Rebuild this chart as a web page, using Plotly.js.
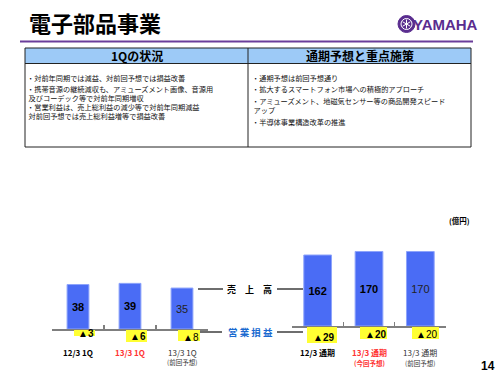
<!DOCTYPE html>
<html>
<head>
<meta charset="utf-8">
<script src="https://cdn.plot.ly/plotly-3.0.1.min.js"></script>
<style>html,body{margin:0;padding:0;background:#fff;}#chart{width:500px;height:375px;}</style>
</head>
<body>
<div id="chart"></div>
<script>
// ---- data ----
const categoriesQ = ['12/3 1Q', '13/3 1Q', '13/3 1Q'];
const subLabelsQ = ['', '', '(前回予想)'];
const salesQ = [38, 39, 35];
const opIncomeQ = [-3, -6, -8];

const categoriesFY = ['12/3 通期', '13/3 通期', '13/3 通期'];
const subLabelsFY = ['', '(今回予想)', '(前回予想)'];
const salesFY = [162, 170, 170];
const opIncomeFY = [-29, -20, -20];

const pageTitle = '電子部品事業';
const headerLeft = '1Qの状況';
const headerRight = '通期予想と重点施策';
const linesLeft = [
  '・対前年同期では減益、対前回予想では損益改善',
  '・携帯音源の継続減収も、アミューズメント画像、音源用',
  ' 及びコーデック等で対前年同期増収',
  '・営業利益は、売上総利益の減少等で対前年同期減益',
  ' 対前回予想では売上総利益増等で損益改善'
];
const linesRight = [
  '・通期予想は前回予想通り',
  '・拡大するスマートフォン市場への積極的アプローチ',
  '・アミューズメント、地磁気センサー等の商品開発スピード',
  ' アップ',
  '・半導体事業構造改革の推進'
];
const unitLabel = '(億円)';
const salesLabel = '売　上　高';
const opLabel = '営 業 損 益';
const pageNo = '14';

// ---- styles ----
const W = 500, H = 375;
const px = x => x / W;
const py = y => 1 - y / H;
const CJK = '"Noto Sans CJK JP", "Noto Sans", sans-serif';
const SANS = '"Liberation Sans", Arial, sans-serif';
const barColor = '#4a6cf5';
const barLine = '#8ea4fb';
const yellow = '#ffff33';
const red = '#ff3333';
const labelColors = ['#000', red, '#333'];
const labelBold = [true, true, false];
// [left offset px, width px, height px]
const boxQ = [[-4.2, 21, 6], [-3.8, 21, 11.5], [-4, 22, 11]];
const boxQText = [[8, -4.5], [7.5, -7], [8.5, -8]];
const boxFY = [[-11, 30, 16], [-9.2, 26.6, 12], [-8.8, 26.6, 12]];
const boxFYText = [[6, -11], [6.8, -8], [6, -8]];

const xQ = categoriesQ.map((_, i) => i);
const xFY = categoriesFY.map((_, i) => i);
const fmtBar = (v, i) => labelBold[i] ? '<b>' + v + '</b>' : String(v);

const traces = [
  {
    type: 'bar', x: xQ, y: salesQ, xaxis: 'x', yaxis: 'y', width: 0.42,
    marker: {color: barColor, line: {color: barLine, width: 1}},
    text: salesQ.map(fmtBar), textposition: 'inside', insidetextanchor: 'middle',
    textangle: 0, constraintext: 'none',
    insidetextfont: {family: SANS, size: 11, color: ['#000', '#000', '#222']},
    hoverinfo: 'skip'
  },
  {
    type: 'bar', x: xFY, y: salesFY, xaxis: 'x2', yaxis: 'y2', width: 0.54,
    marker: {color: barColor, line: {color: barLine, width: 1}},
    text: salesFY.map(fmtBar), textposition: 'inside', insidetextanchor: 'middle',
    textangle: 0, constraintext: 'none',
    insidetextfont: {family: SANS, size: 11, color: ['#000', '#000', '#222']},
    hoverinfo: 'skip'
  }
];

const shapes = [];
const annotations = [];

// title + header line
annotations.push({xref: 'paper', yref: 'paper', x: px(27), y: py(22), xanchor: 'left', yanchor: 'middle',
  text: '<b>' + pageTitle + '</b>', showarrow: false, font: {family: CJK, size: 22, color: '#000'}});
shapes.push({type: 'line', xref: 'paper', yref: 'paper', x0: px(20), x1: px(473), y0: py(41.5), y1: py(41.5),
  line: {color: '#6a3d9a', width: 2}});

// logo
shapes.push({type: 'circle', xref: 'paper', yref: 'paper', x0: px(398), x1: px(415), y0: py(15.5), y1: py(32.5),
  fillcolor: '#5a2d8f', line: {color: '#5a2d8f', width: 1}});
shapes.push({type: 'circle', xref: 'paper', yref: 'paper', x0: px(401), x1: px(412), y0: py(18.5), y1: py(29.5),
  fillcolor: 'rgba(0,0,0,0)', line: {color: '#ffffff', width: 1}});
[[0, 1], [0.866, 0.5], [0.866, -0.5]].forEach(d => {
  shapes.push({type: 'line', xref: 'paper', yref: 'paper',
    x0: px(406.5 - 4.5 * d[0]), x1: px(406.5 + 4.5 * d[0]), y0: py(24 - 4.5 * d[1]), y1: py(24 + 4.5 * d[1]),
    line: {color: '#ffffff', width: 1}});
});
annotations.push({xref: 'paper', yref: 'paper', x: px(445.5), y: py(24.5), xanchor: 'center', yanchor: 'middle',
  text: '<b>YAMAHA</b>', showarrow: false,
  font: {family: '"Liberation Sans Narrow", "Arial Narrow", "Liberation Sans", sans-serif', size: 15, color: '#5a2d8f'}});

// table
shapes.push({type: 'rect', xref: 'paper', yref: 'paper', x0: px(25), x1: px(471), y0: py(48), y1: py(63.5),
  fillcolor: '#9dcaf7', line: {width: 0}, layer: 'below'});
shapes.push({type: 'rect', xref: 'paper', yref: 'paper', x0: px(25), x1: px(471), y0: py(48), y1: py(147),
  fillcolor: 'rgba(0,0,0,0)', line: {color: '#222', width: 1}});
shapes.push({type: 'line', xref: 'paper', yref: 'paper', x0: px(248), x1: px(248), y0: py(48), y1: py(147),
  line: {color: '#222', width: 1}});
shapes.push({type: 'line', xref: 'paper', yref: 'paper', x0: px(25), x1: px(471), y0: py(63.5), y1: py(63.5),
  line: {color: '#222', width: 1}});
annotations.push({xref: 'paper', yref: 'paper', x: px(137), y: py(56), xanchor: 'center', yanchor: 'middle',
  text: '<b>' + headerLeft + '</b>', showarrow: false, font: {family: CJK, size: 12, color: '#000'}});
annotations.push({xref: 'paper', yref: 'paper', x: px(360), y: py(56), xanchor: 'center', yanchor: 'middle',
  text: '<b>' + headerRight + '</b>', showarrow: false, font: {family: CJK, size: 12, color: '#000'}});
const leftY = [78, 88.5, 97.5, 106.5, 115.5];
const rightY = [78, 89, 101, 110.5, 122];
linesLeft.forEach((t, i) => annotations.push({xref: 'paper', yref: 'paper', x: px(26), y: py(leftY[i]),
  xanchor: 'left', yanchor: 'middle', text: t, showarrow: false, borderpad: 0,
  font: {family: CJK, size: 7.2, color: '#111'}}));
linesRight.forEach((t, i) => annotations.push({xref: 'paper', yref: 'paper', x: px(251), y: py(rightY[i]),
  xanchor: 'left', yanchor: 'middle', text: t, showarrow: false, borderpad: 0,
  font: {family: CJK, size: 7.2, color: '#111'}}));

// unit, page number
annotations.push({xref: 'paper', yref: 'paper', x: px(459), y: py(220), xanchor: 'center', yanchor: 'middle',
  text: '<b>' + unitLabel + '</b>', showarrow: false, font: {family: CJK, size: 7.5, color: '#000'}});
annotations.push({xref: 'paper', yref: 'paper', x: px(488), y: py(366), xanchor: 'center', yanchor: 'middle',
  text: '<b>' + pageNo + '</b>', showarrow: false, font: {family: SANS, size: 12, color: '#000'}});

// middle labels with leader lines
annotations.push({xref: 'paper', yref: 'paper', x: px(249), y: py(289), xanchor: 'center', yanchor: 'middle',
  text: '<b>' + salesLabel + '</b>', showarrow: false, font: {family: CJK, size: 9, color: '#000'}});
annotations.push({xref: 'paper', yref: 'paper', x: px(250), y: py(332), xanchor: 'center', yanchor: 'middle',
  text: '<b>' + opLabel + '</b>', showarrow: false, font: {family: CJK, size: 9.5, color: '#1a6ad0'}});
[[198, 223, 289], [277, 303, 289], [200, 222, 332], [277, 303, 332]].forEach(s => shapes.push({
  type: 'line', xref: 'paper', yref: 'paper', x0: px(s[0]), x1: px(s[1]), y0: py(s[2]), y1: py(s[2]),
  line: {color: '#6e6e6e', width: 2}}));

// operating income boxes + category labels
function addGroup(xr, yr, xs, vals, boxes, boxText, cats, subs, labelShift, sub2Shift) {
  vals.forEach((v, i) => {
    const b = boxes[i];
    annotations.push({xref: xr, yref: yr, x: xs[i], y: 0, xanchor: 'left', yanchor: 'top',
      xshift: b[0], yshift: -1, width: b[1], height: b[2], borderpad: 0, borderwidth: 0,
      bgcolor: yellow, text: ' ', showarrow: false, font: {size: 1, color: yellow}});
    const t = '▲' + Math.abs(v);
    annotations.push({xref: xr, yref: yr, x: xs[i], y: 0, xanchor: 'center', yanchor: 'middle',
      xshift: boxText[i][0], yshift: boxText[i][1], showarrow: false,
      text: labelBold[i] ? '<b>' + t + '</b>' : t, font: {family: SANS, size: 10, color: '#000'}});
  });
  cats.forEach((c, i) => {
    annotations.push({xref: xr, yref: yr, x: xs[i], y: 0, xanchor: 'center', yanchor: 'middle',
      yshift: labelShift, showarrow: false, text: labelBold[i] ? '<b>' + c + '</b>' : c,
      font: {family: CJK, size: 8, color: labelColors[i]}});
    if (subs[i]) annotations.push({xref: xr, yref: yr, x: xs[i], y: 0, xanchor: 'center', yanchor: 'middle',
      yshift: sub2Shift, showarrow: false, text: labelBold[i] ? '<b>' + subs[i] + '</b>' : subs[i],
      font: {family: CJK, size: 6.5, color: labelColors[i]}});
  });
}
addGroup('x', 'y', xQ, opIncomeQ, boxQ, boxQText, categoriesQ, subLabelsQ, -23, -33);
addGroup('x2', 'y2', xFY, opIncomeFY, boxFY, boxFYText, categoriesFY, subLabelsFY, -26, -37);

const axisX = {
  type: 'linear', range: [-0.5, 2.5], showgrid: false, zeroline: false, showline: true,
  linecolor: '#7f7f7f', linewidth: 2, ticks: 'inside', ticklen: 4, tickwidth: 1.5, tickcolor: '#7f7f7f',
  tickmode: 'array', tickvals: [-0.5, 0.5, 1.5, 2.5], showticklabels: false, fixedrange: true
};
const layout = {
  width: W, height: H, margin: {l: 0, r: 0, t: 0, b: 0},
  paper_bgcolor: '#ffffff', plot_bgcolor: 'rgba(0,0,0,0)', showlegend: false,
  xaxis: Object.assign({}, axisX, {domain: [px(52), px(208)], anchor: 'y'}),
  yaxis: {domain: [py(329), py(200)], range: [0, 129 / 1.17], visible: false, fixedrange: true, anchor: 'x'},
  xaxis2: Object.assign({}, axisX, {domain: [px(292), px(446)], anchor: 'y2'}),
  yaxis2: {domain: [py(326), py(200)], range: [0, 126 / 0.4383], visible: false, fixedrange: true, anchor: 'x2'},
  shapes: shapes, annotations: annotations
};
Plotly.newPlot('chart', traces, layout, {staticPlot: true, displayModeBar: false});
</script>
</body>
</html>
